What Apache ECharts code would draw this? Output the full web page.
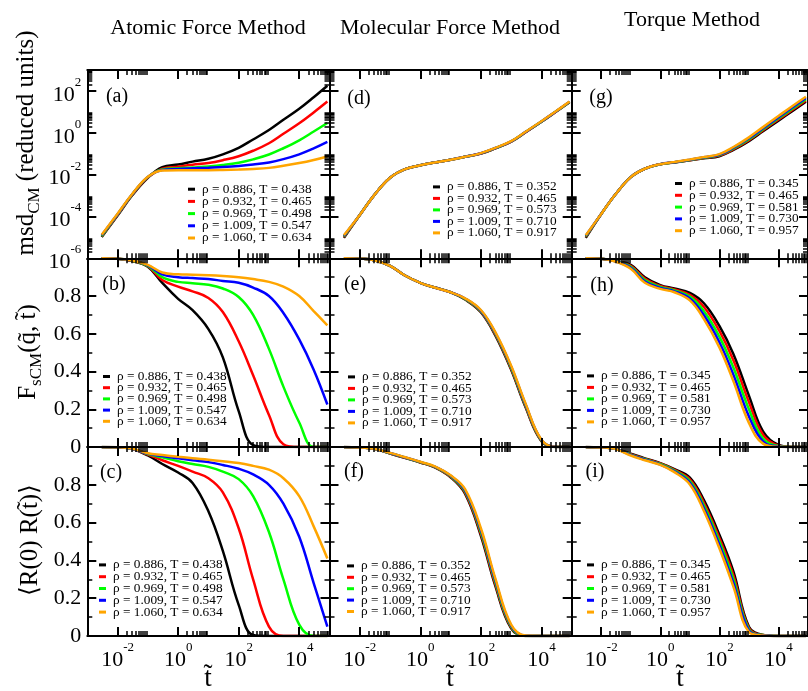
<!DOCTYPE html>
<html><head><meta charset="utf-8">
<script src="https://cdn.jsdelivr.net/npm/echarts@6/dist/echarts.min.js"></script>
<style>html,body{margin:0;padding:0;background:#fff}#c{width:808px;height:691px}</style>
</head><body><div id="c"></div>
<script>
// ---------------- data ----------------
const t = [0.003, 0.01, 0.03, 0.1, 0.3, 1, 3, 10, 30, 100, 300, 1000, 3000, 10000, 30000, 85000];
const colors = ['#000000', '#ff0000', '#00ff00', '#0000ff', '#ffa500'];
const namesAtomic = ['ρ = 0.886, T = 0.438', 'ρ = 0.932, T = 0.465', 'ρ = 0.969, T = 0.498', 'ρ = 1.009, T = 0.547', 'ρ = 1.060, T = 0.634'];
const namesMolecular = ['ρ = 0.886, T = 0.352', 'ρ = 0.932, T = 0.465', 'ρ = 0.969, T = 0.573', 'ρ = 1.009, T = 0.710', 'ρ = 1.060, T = 0.917'];
const namesTorque = ['ρ = 0.886, T = 0.345', 'ρ = 0.932, T = 0.465', 'ρ = 0.969, T = 0.581', 'ρ = 1.009, T = 0.730', 'ρ = 1.060, T = 0.957'];

const xMajorTicks = [0.01, 1, 100, 10000];
const xMinorTicks = [0.02,0.03,0.04,0.05,0.06,0.07,0.08,0.09, 2,3,4,5,6,7,8,9, 200,300,400,500,600,700,800,900, 20000,30000,40000,50000,60000,70000,80000,90000];
const msdMajorTicks = [1e-6, 1e-4, 1e-2, 1, 100];
const msdMinorTicks = [2e-6,3e-6,4e-6,5e-6,6e-6,7e-6,8e-6,9e-6, 2e-4,3e-4,4e-4,5e-4,6e-4,7e-4,8e-4,9e-4, 0.02,0.03,0.04,0.05,0.06,0.07,0.08,0.09, 2,3,4,5,6,7,8,9, 200,300,400,500,600,700,800,900];
const linMajorTicks = [0, 0.2, 0.4, 0.6, 0.8, 1.0];
const linMinorTicks = [0.1, 0.3, 0.5, 0.7, 0.9];
const linLabels = [0, 0.2, 0.4, 0.6, 0.8];

// (a) msd, atomic force
const panelA = [
  [1.05e-5, 1.1e-4, 1.0e-3, 7.1e-3, 0.0229, 0.0302, 0.0417, 0.0575, 0.0933, 0.191, 0.479, 1.35, 4.17, 14.1, 50.1, 178],
  [1.12e-5, 1.17e-4, 1.05e-3, 7.4e-3, 0.019, 0.024, 0.0295, 0.036, 0.049, 0.0759, 0.138, 0.316, 0.891, 2.82, 9.33, 30.9],
  [1.17e-5, 1.23e-4, 1.1e-3, 7.6e-3, 0.0174, 0.02, 0.0219, 0.0245, 0.0288, 0.0372, 0.0537, 0.0912, 0.182, 0.437, 1.15, 2.95],
  [1.26e-5, 1.29e-4, 1.12e-3, 7.8e-3, 0.0166, 0.0186, 0.020, 0.0214, 0.0229, 0.0257, 0.0302, 0.038, 0.055, 0.0933, 0.178, 0.363],
  [1.35e-5, 1.35e-4, 1.15e-3, 7.9e-3, 0.0158, 0.0162, 0.0162, 0.0162, 0.0166, 0.0174, 0.0186, 0.021, 0.0263, 0.0355, 0.050, 0.074]
];
// (b) F_sCM, atomic force
const panelB = [
  [1.0, 0.997, 0.985, 0.955, 0.87, 0.785, 0.725, 0.625, 0.475, 0.19, 0.01, 0, 0, 0, 0, 0],
  [1.0, 0.997, 0.987, 0.958, 0.885, 0.85, 0.825, 0.79, 0.715, 0.56, 0.38, 0.17, 0.015, 0, 0, 0],
  [1.0, 0.997, 0.988, 0.96, 0.9, 0.875, 0.868, 0.86, 0.84, 0.795, 0.7, 0.52, 0.32, 0.13, 0.0, 0],
  [1.0, 0.997, 0.989, 0.963, 0.915, 0.9, 0.895, 0.89, 0.88, 0.87, 0.845, 0.8, 0.71, 0.57, 0.41, 0.225],
  [1.0, 0.997, 0.99, 0.965, 0.925, 0.915, 0.913, 0.91, 0.906, 0.9, 0.89, 0.875, 0.85, 0.8, 0.72, 0.645]
];
// (c) <R(0)R(t)>, atomic force
const panelC = [
  [1.0, 0.999, 0.99, 0.955, 0.91, 0.865, 0.81, 0.66, 0.45, 0.165, 0.005, 0, 0, 0, 0, 0],
  [1.0, 0.999, 0.99, 0.96, 0.93, 0.9, 0.87, 0.835, 0.76, 0.57, 0.3, 0.05, 0, 0, 0, 0],
  [1.0, 0.999, 0.99, 0.963, 0.945, 0.925, 0.91, 0.895, 0.87, 0.83, 0.74, 0.55, 0.3, 0.06, 0.0, 0],
  [1.0, 0.999, 0.991, 0.965, 0.952, 0.94, 0.93, 0.92, 0.905, 0.885, 0.855, 0.8, 0.7, 0.525, 0.28, 0.05],
  [1.0, 0.999, 0.992, 0.967, 0.958, 0.948, 0.94, 0.933, 0.925, 0.915, 0.9, 0.88, 0.835, 0.74, 0.58, 0.41]
];
// (d) msd, molecular force
const panelD = [
  [0.95e-5, 1.17e-4, 1.05e-3, 7.08e-3, 0.0178, 0.0282, 0.038, 0.0513, 0.0708, 0.101, 0.18, 0.374, 1.05, 3.34, 10.1, 29.0],
  [1.03e-5, 1.17e-4, 1.05e-3, 7.08e-3, 0.0178, 0.0282, 0.038, 0.0513, 0.0708, 0.102, 0.181, 0.378, 1.06, 3.37, 10.2, 29.4],
  [1.1e-5, 1.17e-4, 1.05e-3, 7.08e-3, 0.0178, 0.0282, 0.038, 0.0513, 0.0708, 0.103, 0.183, 0.382, 1.08, 3.41, 10.3, 29.7],
  [1.18e-5, 1.17e-4, 1.05e-3, 7.08e-3, 0.0178, 0.0282, 0.038, 0.0513, 0.0708, 0.105, 0.187, 0.39, 1.1, 3.48, 10.5, 30.3],
  [1.26e-5, 1.17e-4, 1.05e-3, 7.08e-3, 0.0178, 0.0282, 0.038, 0.0513, 0.0708, 0.107, 0.191, 0.398, 1.12, 3.55, 10.7, 30.9]
];
// (e) F_sCM, molecular force
const panelE = [
  [1.0, 0.998, 0.99, 0.96, 0.91, 0.87, 0.845, 0.82, 0.782, 0.714, 0.591, 0.409, 0.21, 0.031, 0, 0],
  [1.0, 0.998, 0.99, 0.96, 0.91, 0.87, 0.845, 0.82, 0.784, 0.717, 0.596, 0.414, 0.215, 0.033, 0, 0],
  [1.0, 0.998, 0.99, 0.96, 0.91, 0.87, 0.845, 0.82, 0.785, 0.72, 0.6, 0.42, 0.22, 0.035, 0, 0],
  [1.0, 0.998, 0.99, 0.96, 0.91, 0.87, 0.845, 0.82, 0.787, 0.723, 0.605, 0.426, 0.225, 0.037, 0, 0],
  [1.0, 0.998, 0.99, 0.96, 0.91, 0.87, 0.845, 0.82, 0.788, 0.726, 0.609, 0.431, 0.23, 0.039, 0, 0]
];
// (f) <R(0)R(t)>, molecular force
const panelF = [
  [1.0, 0.998, 0.99, 0.965, 0.943, 0.918, 0.892, 0.84, 0.753, 0.53, 0.265, 0.04, 0, 0, 0, 0],
  [1.0, 0.998, 0.99, 0.966, 0.944, 0.919, 0.894, 0.842, 0.759, 0.54, 0.275, 0.045, 0, 0, 0, 0],
  [1.0, 0.998, 0.99, 0.967, 0.945, 0.92, 0.895, 0.845, 0.765, 0.55, 0.285, 0.05, 0, 0, 0, 0],
  [1.0, 0.998, 0.99, 0.968, 0.946, 0.921, 0.896, 0.848, 0.771, 0.56, 0.295, 0.055, 0.001, 0, 0, 0],
  [1.0, 0.998, 0.99, 0.969, 0.947, 0.922, 0.898, 0.85, 0.777, 0.57, 0.305, 0.06, 0.002, 0, 0, 0]
];
// (g) msd, torque
const panelG = [
  [9.55e-6, 1.32e-4, 1.12e-3, 7.59e-3, 0.0191, 0.0316, 0.038, 0.0479, 0.0603, 0.0759, 0.151, 0.398, 1.17, 3.8, 11.0, 30.2],
  [1.05e-5, 1.32e-4, 1.12e-3, 7.59e-3, 0.0191, 0.0316, 0.0385, 0.049, 0.0624, 0.0804, 0.164, 0.442, 1.32, 4.32, 12.6, 34.7],
  [1.12e-5, 1.32e-4, 1.12e-3, 7.59e-3, 0.0191, 0.0316, 0.0389, 0.0501, 0.0646, 0.0851, 0.178, 0.49, 1.48, 4.9, 14.5, 39.8],
  [1.2e-5, 1.32e-4, 1.12e-3, 7.59e-3, 0.0191, 0.0316, 0.0394, 0.0513, 0.0668, 0.0902, 0.193, 0.543, 1.66, 5.56, 16.6, 45.7],
  [1.26e-5, 1.32e-4, 1.12e-3, 7.59e-3, 0.0191, 0.0316, 0.0398, 0.0525, 0.0692, 0.0955, 0.209, 0.603, 1.86, 6.31, 19.1, 52.5]
];
// (h) F_sCM, torque
const panelH = [
  [1.0, 0.997, 0.986, 0.965, 0.9, 0.858, 0.84, 0.817, 0.762, 0.642, 0.492, 0.272, 0.083, 0.011, 0, 0],
  [1.0, 0.997, 0.985, 0.96, 0.893, 0.853, 0.835, 0.807, 0.742, 0.615, 0.458, 0.238, 0.065, 0.008, 0, 0],
  [1.0, 0.997, 0.985, 0.955, 0.885, 0.848, 0.83, 0.797, 0.72, 0.585, 0.42, 0.2, 0.045, 0.005, 0, 0],
  [1.0, 0.997, 0.984, 0.95, 0.877, 0.843, 0.825, 0.787, 0.698, 0.555, 0.382, 0.162, 0.03, 0.003, 0, 0],
  [1.0, 0.997, 0.983, 0.945, 0.87, 0.838, 0.82, 0.777, 0.678, 0.528, 0.348, 0.128, 0.018, 0.001, 0, 0]
];
// (i) <R(0)R(t)>, torque
const panelI = [
  [1.0, 0.998, 0.99, 0.965, 0.94, 0.915, 0.883, 0.838, 0.719, 0.536, 0.34, 0.049, 0.006, 0, 0, 0],
  [1.0, 0.998, 0.99, 0.962, 0.937, 0.913, 0.879, 0.829, 0.704, 0.518, 0.32, 0.042, 0.005, 0, 0, 0],
  [1.0, 0.998, 0.99, 0.96, 0.935, 0.91, 0.875, 0.82, 0.69, 0.5, 0.3, 0.035, 0.005, 0, 0, 0],
  [1.0, 0.998, 0.99, 0.958, 0.933, 0.907, 0.871, 0.811, 0.676, 0.482, 0.28, 0.028, 0.004, 0, 0, 0],
  [1.0, 0.998, 0.99, 0.955, 0.93, 0.905, 0.867, 0.802, 0.661, 0.464, 0.26, 0.021, 0.003, 0, 0, 0]
];

// ---------------- layout ----------------
const FONT = '"Liberation Serif", "Times New Roman", serif';
const colL = [87.3, 329.5, 571.7], colW = 242.2;
const rowT = [70, 258.3, 447], rowH = [188.3, 188.7, 189];

const panels = [
  {row:0, col:0, data:panelA, names:namesAtomic,   letter:'(a)', lx:117, ly:97,  leg:[188, 182.7, -0.8]},
  {row:1, col:0, data:panelB, names:namesAtomic,   letter:'(b)', lx:114, ly:285, leg:[103, 370, -1.8]},
  {row:2, col:0, data:panelC, names:namesAtomic,   letter:'(c)', lx:111, ly:473, leg:[99, 558.4, -1.2]},
  {row:0, col:1, data:panelD, names:namesMolecular,letter:'(d)', lx:359, ly:99,  leg:[433, 180.4, -1.5]},
  {row:1, col:1, data:panelE, names:namesMolecular,letter:'(e)', lx:355, ly:285, leg:[348, 370.4, -1.5]},
  {row:2, col:1, data:panelF, names:namesMolecular,letter:'(f)', lx:354, ly:472, leg:[347, 559.4, -1.6]},
  {row:0, col:2, data:panelG, names:namesTorque,   letter:'(g)', lx:601, ly:98,  leg:[675, 177, -1.2]},
  {row:1, col:2, data:panelH, names:namesTorque,   letter:'(h)', lx:602, ly:286, leg:[587, 369.4, -1.5]},
  {row:2, col:2, data:panelI, names:namesTorque,   letter:'(i)', lx:595, ly:472, leg:[587, 558.4, -1.2]}
];

const richPow = {
  b: {fontSize: 22, fontFamily: FONT, color: '#000', lineHeight: 30, verticalAlign: 'bottom'},
  s: {fontSize: 13, fontFamily: FONT, color: '#000', lineHeight: 16, verticalAlign: 'top'}
};
function powLabel(v) {
  const e = Math.round(Math.log10(v));
  return '{b|10}{s|' + e + '}';
}
function linLabel(v) { return Math.abs(v) < 1e-9 ? '0' : v.toFixed(1); }

const grids = [], xAxes = [], yAxes = [], series = [], legends = [], graphics = [];
const lineStyleAxis = {color: '#000', width: 2};
const tickMajor = (vals) => ({show: true, inside: true, length: 9, lineStyle: {color: '#000', width: 2}, customValues: vals});
const tickMinor = (vals) => ({show: true, inside: true, length: 5, lineStyle: {color: '#000', width: 1.5}, customValues: vals});

panels.forEach((p, pi) => {
  grids.push({left: colL[p.col], top: rowT[p.row], width: colW, height: rowH[p.row], containLabel: false});
  const gx = {gridIndex: pi, type: 'log', min: 0.001, max: 100000, splitLine: {show: false}, z: 3};
  const showX = p.row === 2;
  xAxes.push(Object.assign({}, gx, {position: 'bottom',
    axisLine: {show: true, onZero: false, lineStyle: lineStyleAxis},
    axisTick: tickMajor(xMajorTicks),
    axisLabel: {show: showX, customValues: xMajorTicks, formatter: powLabel, rich: richPow, margin: 5}}));
  xAxes.push(Object.assign({}, gx, {position: 'top',
    axisLine: {show: true, onZero: false, lineStyle: lineStyleAxis},
    axisTick: tickMajor(xMajorTicks), axisLabel: {show: false}}));
  xAxes.push(Object.assign({}, gx, {position: 'bottom',
    axisLine: {show: false, onZero: false}, axisTick: tickMinor(xMinorTicks), axisLabel: {show: false}}));
  xAxes.push(Object.assign({}, gx, {position: 'top',
    axisLine: {show: false, onZero: false}, axisTick: tickMinor(xMinorTicks), axisLabel: {show: false}}));

  const isLog = p.row === 0;
  const gy = isLog ? {gridIndex: pi, type: 'log', min: 1e-6, max: 1000, splitLine: {show: false}, z: 3}
                   : {gridIndex: pi, type: 'value', min: 0, max: 1, splitLine: {show: false}, z: 3};
  const maj = isLog ? msdMajorTicks : linMajorTicks;
  const mnr = isLog ? msdMinorTicks : linMinorTicks;
  const showY = p.col === 0;
  const yLab = isLog
    ? {show: showY, customValues: msdMajorTicks, formatter: powLabel, rich: richPow, margin: 6}
    : {show: showY, customValues: linLabels, formatter: linLabel, fontSize: 22, fontFamily: FONT, color: '#000', margin: 6};
  yAxes.push(Object.assign({}, gy, {position: 'left',
    axisLine: {show: true, onZero: false, lineStyle: lineStyleAxis}, axisTick: tickMajor(maj), axisLabel: yLab}));
  yAxes.push(Object.assign({}, gy, {position: 'right',
    axisLine: {show: true, onZero: false, lineStyle: lineStyleAxis}, axisTick: tickMajor(maj), axisLabel: {show: false}}));
  yAxes.push(Object.assign({}, gy, {position: 'left',
    axisLine: {show: false, onZero: false}, axisTick: tickMinor(mnr), axisLabel: {show: false}}));
  yAxes.push(Object.assign({}, gy, {position: 'right',
    axisLine: {show: false, onZero: false}, axisTick: tickMinor(mnr), axisLabel: {show: false}}));

  p.data.forEach((vals, k) => {
    series.push({
      type: 'line', name: p.names[k], xAxisIndex: pi * 4, yAxisIndex: pi * 4,
      data: t.map((tv, i) => [tv, vals[i]]),
      showSymbol: false, symbol: 'none', smooth: 0.4, clip: true,
      lineStyle: {color: colors[k], width: 2.5}, itemStyle: {color: colors[k]},
      z: 2 + k * 0.01, animation: false, silent: true
    });
  });

  legends.push({
    left: p.leg[0], top: p.leg[1], orient: 'vertical', padding: 0,
    itemWidth: 7, itemHeight: 3, itemGap: p.leg[2], icon: 'rect',
    selectedMode: false, data: p.names,
    textStyle: {fontFamily: FONT, fontSize: 13.3, color: '#000', padding: [0, 0, 0, 2]}
  });

  graphics.push({type: 'text', x: p.lx, y: p.ly, z: 10,
    style: {text: p.letter, fontSize: 20, fontFamily: FONT, fill: '#000', align: 'center', verticalAlign: 'middle', textAlign: 'center', textVerticalAlign: 'middle'}});
});

// titles
[['Atomic Force Method', 208, 28], ['Molecular Force Method', 450, 28], ['Torque Method', 692, 20]].forEach(a => {
  graphics.push({type: 'text', x: a[1], y: a[2],
    style: {text: a[0], fontSize: 22, fontFamily: FONT, fill: '#000', align: 'center', verticalAlign: 'middle', textAlign: 'center', textVerticalAlign: 'middle'}});
});
// x-axis titles
[208, 450, 680].forEach(x => {
  graphics.push({type: 'text', x: x, y: 679,
    style: {text: 't\u0303', fontSize: 27, fontFamily: FONT, fill: '#000', align: 'center', verticalAlign: 'middle', textAlign: 'center', textVerticalAlign: 'middle'}});
});
// y-axis titles
const richTitle = {
  m: {fontSize: 25, fontFamily: FONT, color: '#000', lineHeight: 28, verticalAlign: 'top'},
  sub: {fontSize: 17, fontFamily: FONT, color: '#000', lineHeight: 17, padding: [12, 0, 0, 0], verticalAlign: 'top'}
};
[['{m|msd}{sub|CM}{m| (reduced units)}', 28, 143],
 ['{m|F}{sub|sCM}{m|(q\u0303, t\u0303)}', 30, 352],
 ['{m|\u27E8R(0) R(t\u0303)\u27E9}', 32, 540]].forEach(a => {
  graphics.push({type: 'text', x: a[1], y: a[2], rotation: Math.PI / 2,
    style: {text: a[0], rich: richTitle, fill: '#000', align: 'center', verticalAlign: 'middle', textAlign: 'center', textVerticalAlign: 'middle'}});
});

const chart = echarts.init(document.getElementById('c'), null, {renderer: 'canvas', width: 808, height: 691});
chart.setOption({
  animation: false,
  backgroundColor: '#ffffff',
  grid: grids, xAxis: xAxes, yAxis: yAxes, series: series, legend: legends,
  graphic: graphics
});
</script>
</body></html>
